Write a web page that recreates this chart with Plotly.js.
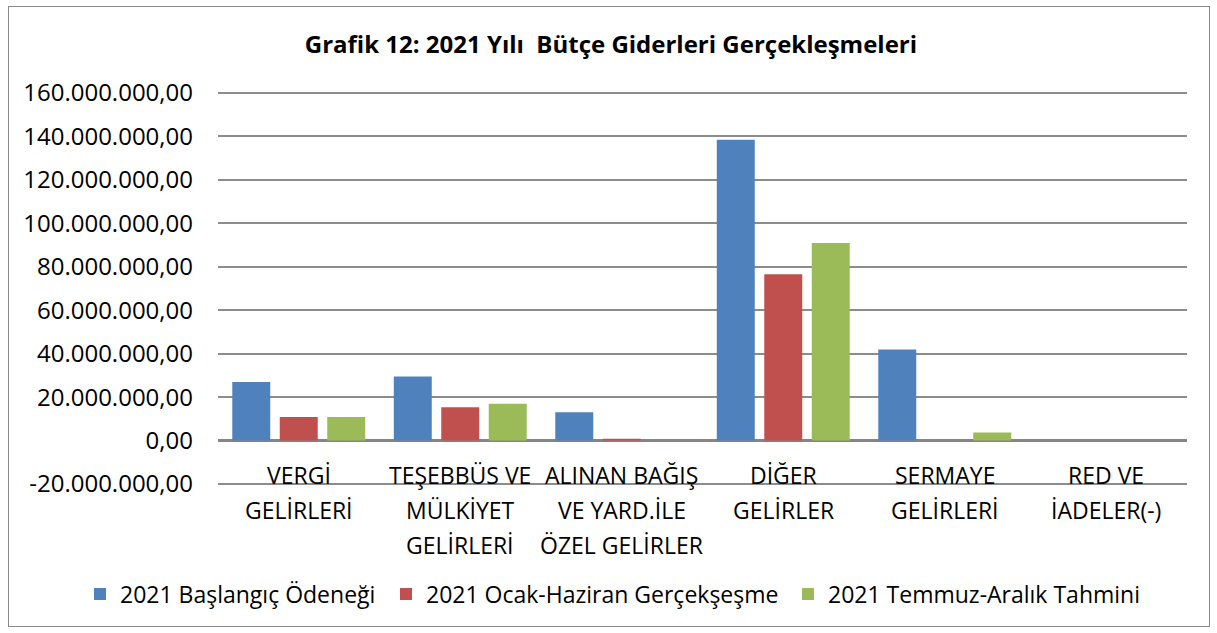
<!DOCTYPE html>
<html>
<head>
<meta charset="utf-8">
<script src="https://cdn.plot.ly/plotly-3.0.1.min.js"></script>
<style>
  html, body { margin: 0; padding: 0; background: #ffffff; }
  #wrap { position: relative; width: 1217px; height: 633px; }
  #chart { position: absolute; left: 0; top: 0; width: 1217px; height: 633px; }
  #frame { position: absolute; left: 8px; top: 6px; width: 1200px; height: 619px; border: 1px solid #8a8a8a; pointer-events: none; }
</style>
</head>
<body>
<div id="wrap">
  <div id="chart"></div>
  <div id="frame"></div>
</div>
<script>
// Categories (each split into the lines shown under the axis)
const categories = ["VERGİ GELİRLERİ", "TEŞEBBÜS VE MÜLKİYET GELİRLERİ", "ALINAN BAĞIŞ VE YARD.İLE ÖZEL GELİRLER", "DİĞER GELİRLER", "SERMAYE GELİRLERİ", "RED VE İADELER(-)"];
const categoryLines = [
  ["VERGİ", "GELİRLERİ"],
  ["TEŞEBBÜS VE", "MÜLKİYET", "GELİRLERİ"],
  ["ALINAN BAĞIŞ", "VE YARD.İLE", "ÖZEL GELİRLER"],
  ["DİĞER", "GELİRLER"],
  ["SERMAYE", "GELİRLERİ"],
  ["RED VE", "İADELER(-)"]
];

// Series
const seriesNames = ["2021 Başlangıç Ödeneği", "2021 Ocak-Haziran Gerçekşeşme", "2021 Temmuz-Aralık Tahmini"];
const baslangicOdenegi = [27000000, 29500000, 13000000, 138500000, 41900000, 0];
const ocakHaziran = [10800000, 15300000, 800000, 76600000, 0, 0];
const temmuzAralik = [10800000, 16900000, 0, 90900000, 3700000, 0];

// Y axis ticks
const yTickVals = [-20000000, 0, 20000000, 40000000, 60000000, 80000000, 100000000, 120000000, 140000000, 160000000];
const yTickLabels = ["-20.000.000,00", "0,00", "20.000.000,00", "40.000.000,00", "60.000.000,00", "80.000.000,00", "100.000.000,00", "120.000.000,00", "140.000.000,00", "160.000.000,00"];
const yMin = -20000000;
const yMax = 160000000;

const titleText = "Grafik 12: 2021 Yılı  Bütçe Giderleri Gerçekleşmeleri";

const colors = ["#4F81BD", "#C0504D", "#9BBB59"];
const values = [baslangicOdenegi, ocakHaziran, temmuzAralik];
const legendIds = ["legend", "legend2", "legend3"];

const FONT = "'Open Sans', 'Noto Sans', sans-serif";

const traces = values.map((v, i) => ({
  type: "bar",
  name: seriesNames[i],
  legend: legendIds[i],
  x: categories,
  y: v,
  marker: { color: colors[i], line: { width: 0 } },
  hoverinfo: "skip"
}));

const annotations = [];
categoryLines.forEach((lines, ci) => {
  lines.forEach((ln, li) => {
    annotations.push({
      text: ln,
      x: categories[ci],
      xref: "x",
      y: 0,
      yref: "y",
      xanchor: "center",
      yanchor: "middle",
      yshift: -(34 + 35 * li),
      showarrow: false,
      font: { family: FONT, size: 23, color: "#000000" }
    });
  });
});

// Plot area: gridlines from y=93 (160M) to y=484 (-20M); extend by 2px each side so the edge gridlines draw
const extraPx = 2;
const perPx = (yMax - yMin) / 391;
const pad = perPx * extraPx;

function legendBox(xPx) {
  return {
    orientation: "h",
    xref: "container",
    x: xPx / 1217,
    xanchor: "left",
    yref: "container",
    y: 1 - 594 / 633,
    yanchor: "middle",
    font: { family: FONT, size: 23, color: "#000000" },
    itemwidth: 30,
    itemclick: false,
    bgcolor: "rgba(0,0,0,0)"
  };
}

const layout = {
  width: 1217,
  height: 633,
  paper_bgcolor: "rgba(0,0,0,0)",
  plot_bgcolor: "rgba(0,0,0,0)",
  margin: { l: 218, r: 30, t: 93 - extraPx, b: 149 - extraPx },
  title: {
    text: "<b>" + titleText + "</b>",
    x: 0.502,
    xref: "container",
    xanchor: "center",
    y: 1 - 45 / 633,
    yref: "container",
    yanchor: "middle",
    font: { family: FONT, size: 24, color: "#000000" }
  },
  barmode: "group",
  bargap: 0.118,
  bargroupgap: 0.2,
  xaxis: {
    type: "category",
    showticklabels: false,
    showgrid: false,
    zeroline: false,
    showline: false,
    ticks: ""
  },
  yaxis: {
    range: [yMin - pad, yMax + pad],
    tickmode: "array",
    tickvals: yTickVals,
    ticktext: yTickLabels,
    showgrid: true,
    gridcolor: "#8c8c8c",
    gridwidth: 2,
    zeroline: true,
    zerolinecolor: "#858585",
    zerolinewidth: 3,
    showline: false,
    ticks: "",
    ticklabelstandoff: 24,
    tickfont: { family: FONT, size: 24, color: "#000000" }
  },
  showlegend: true,
  legend: legendBox(80),
  legend2: legendBox(386),
  legend3: legendBox(788),
  annotations: annotations
};

Plotly.newPlot("chart", traces, layout, { staticPlot: true, displayModeBar: false });
</script>
</body>
</html>
